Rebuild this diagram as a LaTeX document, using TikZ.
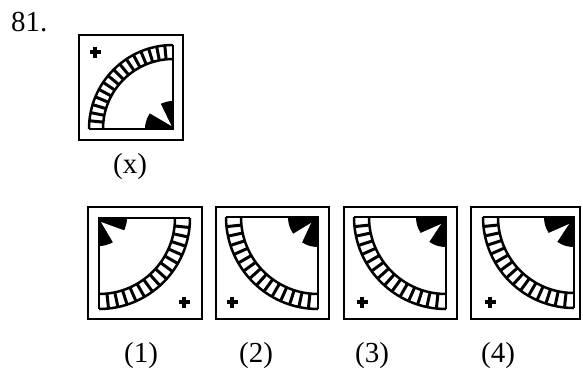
\documentclass[tikz,border=0pt]{standalone}
\usepackage{fontspec}
\setmainfont{Liberation Serif}
\usetikzlibrary{calc}
\tikzset{
  boxline/.style={line width=2pt},
  edgeline/.style={line width=1.8pt},
  arcline/.style={line width=2.5pt},
  sepline/.style={line width=3pt},
  plusline/.style={line width=3.2pt},
  lbl/.style={inner sep=0pt, font=\fontsize{29}{33}\selectfont},
}
% #1 side, #2 band thickness, #3 cells, #4 dark radius, #5 a1, #6 a2, #7 apex
\newcommand\qfig[7]{%
  \pgfmathsetmacro\qr{#1-#2}%
  \fill[black] (0,0) -- (#4,0) arc[start angle=0,end angle=90,radius=#4] -- cycle;
  \fill[white] #7 -- (#5:#4+1) arc[start angle=#5,end angle=#6,radius=#4+1] -- cycle;
  \draw[arcline] (#1,0) arc[start angle=0,end angle=90,radius=#1];
  \draw[arcline] (\qr,0) arc[start angle=0,end angle=90,radius=\qr];
  \pgfmathtruncatemacro\qn{#3-1}%
  \foreach \k in {1,...,\qn}{%
    \pgfmathsetmacro\qa{\k*90/#3}%
    \draw[sepline] (\qa:\qr) -- (\qa:#1);
  }
  \draw[edgeline] (0,#1) -- (0,0) -- (#1,0);
}
\newcommand\plusmark[1]{%
  \draw[plusline] ($#1+(-5.5,0)$) -- ($#1+(5.5,0)$);
  \draw[plusline] ($#1+(0,-5.5)$) -- ($#1+(0,5.5)$);
}
\begin{document}
\begin{tikzpicture}[x=1pt,y=-1pt]
  \fill[white] (0,0) rectangle (583,373);
  \path[use as bounding box] (0,0) rectangle (583,373);

  \node[lbl, anchor=base west] (num) at (11,31) {81.};

  % (x)
  \draw[boxline] (79,35) rectangle (183,140);
  \begin{scope}[shift={(173,129)}, xscale=-1, yscale=-1]
    \qfig{84}{14}{16}{28}{34}{64}{(1.5,3)}
  \end{scope}
  \plusmark{(95,52)}
  \node[lbl] (lx) at (130,167) {(x)};

  % (1)
  \draw[boxline] (88,207) rectangle (202,319);
  \begin{scope}[shift={(99,218)}]
    \qfig{91}{15}{15}{28}{26}{60}{(2,4)}
  \end{scope}
  \plusmark{(184,302)}
  \node[lbl] (l1) at (141,356) {(1)};

  % (2)
  \draw[boxline] (216,207) rectangle (329,319);
  \begin{scope}[shift={(318,217)}, xscale=-1]
    \qfig{92}{15}{15}{30}{34}{58}{(7,6)}
  \end{scope}
  \plusmark{(232,302)}
  \node[lbl] (l2) at (256,356) {(2)};

  % (3)
  \draw[boxline] (344,207) rectangle (457,319);
  \begin{scope}[shift={(446,217)}, xscale=-1]
    \qfig{92}{15}{15}{30}{32}{56}{(5,7)}
  \end{scope}
  \plusmark{(362,302)}
  \node[lbl] (l3) at (372,356) {(3)};

  % (4)
  \draw[boxline] (471,207) rectangle (580,319);
  \begin{scope}[shift={(574,217)}, xscale=-1]
    \qfig{91}{15}{15}{30}{32}{56}{(5,7)}
  \end{scope}
  \plusmark{(490,302)}
  \node[lbl] (l4) at (498,356) {(4)};
\end{tikzpicture}
\end{document}
